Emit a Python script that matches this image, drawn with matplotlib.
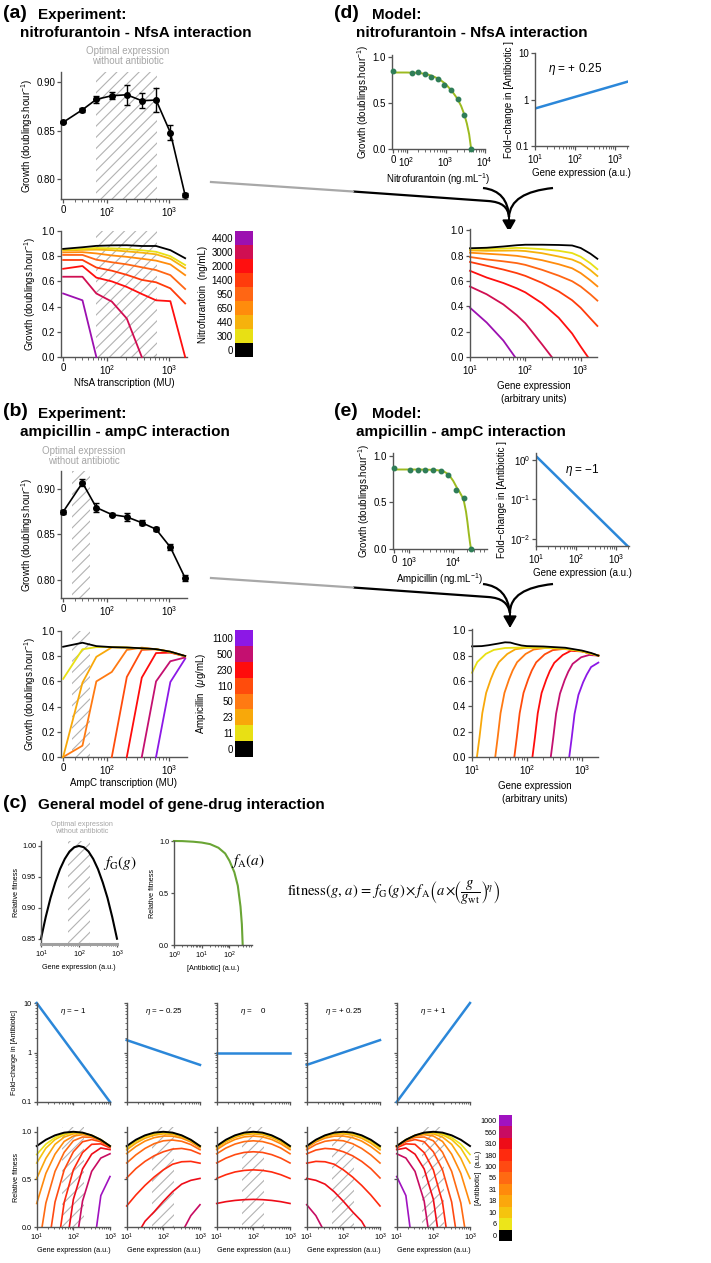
"""Gene-drug interaction figure: experiments (a, b), models (d, e) and the general model (c)."""

import numpy as np
import matplotlib
matplotlib.use("Agg")
import matplotlib.pyplot as plt
from matplotlib.patches import FancyArrowPatch, PathPatch
from matplotlib.path import Path
from matplotlib.ticker import FixedLocator, FixedFormatter, NullFormatter, NullLocator

W, H = 711, 1263
NA = np.nan

# ------------------------------------------------------------------
# (a) nitrofurantoin - NfsA experiment
# ------------------------------------------------------------------
NFSA_MU = [0, 40, 67, 119, 208, 363, 617, 1050, 1820]
NFSA_GROWTH = [0.8585, 0.8714, 0.882, 0.8857, 0.8867, 0.8806, 0.8813, 0.848, 0.7837]
NFSA_ERR = [0.001, 0.002, 0.0038, 0.0034, 0.0102, 0.0077, 0.0119, 0.0077, 0.002]
NFSA_OPTIMUM = (67, 645)

NITRO_LEVELS = ["0", "300", "440", "650", "950", "1400", "2000", "3000", "4400"]
NITRO_COLORS = ["#000000", "#e8e014", "#f6b20c", "#ff8c0c", "#ff6614",
                "#ff3c0c", "#ff0f0f", "#d00f52", "#9c10b0"]
NITRO_GROWTH = [
    [0.858, 0.871, 0.882, 0.886, 0.887, 0.881, 0.881, 0.848, 0.784],
    [0.852, 0.858, 0.865, 0.862, 0.857, 0.847, 0.835, 0.800, 0.730],
    [0.845, 0.850, 0.852, 0.848, 0.838, 0.828, 0.815, 0.780, 0.705],
    [0.830, 0.832, 0.822, 0.806, 0.795, 0.780, 0.765, 0.735, 0.650],
    [0.810, 0.810, 0.772, 0.752, 0.735, 0.712, 0.690, 0.650, 0.540],
    [0.770, 0.770, 0.710, 0.685, 0.652, 0.612, 0.593, 0.545, 0.425],
    [0.700, 0.722, 0.630, 0.600, 0.556, 0.500, 0.450, 0.443, 0.000],
    [0.637, 0.637, 0.504, 0.440, 0.305, 0.000, NA, NA, NA],
    [0.504, 0.450, 0.000, NA, NA, NA, NA, NA, NA],
]

# ------------------------------------------------------------------
# (b) ampicillin - ampC experiment
# ------------------------------------------------------------------
AMPC_MU = [0, 40, 67, 119, 208, 363, 617, 1050, 1820]
AMPC_GROWTH = [0.875, 0.907, 0.8797, 0.872, 0.8694, 0.863, 0.8558, 0.836, 0.802]
AMPC_ERR = [0.002, 0.0037, 0.005, 0.0015, 0.0048, 0.0028, 0.002, 0.003, 0.0037]
AMPC_OPTIMUM = (27, 52.5)

AMP_LEVELS = ["0", "11", "23", "50", "110", "230", "500", "1100"]
AMP_COLORS = ["#000000", "#e8e014", "#f8a80a", "#ff7a12", "#ff4c0c",
              "#ff0c0c", "#c41070", "#8c18e6"]
AMP_GROWTH = [
    [0.875, 0.907, 0.880, 0.872, 0.869, 0.863, 0.856, 0.836, 0.802],
    [0.620, 0.855, 0.872, 0.872, 0.869, 0.862, 0.855, 0.835, 0.800],
    [0.000, 0.590, 0.795, 0.870, 0.868, 0.862, 0.855, 0.835, 0.800],
    [0.000, 0.090, 0.600, 0.675, 0.850, 0.868, 0.855, 0.835, 0.800],
    [NA, NA, NA, 0.000, 0.635, 0.850, 0.855, 0.832, 0.800],
    [NA, NA, NA, NA, 0.000, 0.630, 0.825, 0.828, 0.800],
    [NA, NA, NA, NA, NA, 0.000, 0.600, 0.760, 0.790],
    [NA, NA, NA, NA, NA, NA, 0.000, 0.595, 0.780],
]

# ------------------------------------------------------------------
# (d) nitrofurantoin model
# ------------------------------------------------------------------
NITRO_DOSE = [0, 134, 199, 295, 421, 624, 906, 1370, 2040, 3030, 4470]
NITRO_DOSE_GROWTH = [0.848, 0.83, 0.834, 0.812, 0.78, 0.755, 0.697, 0.639, 0.538, 0.368, 0.0]
NITRO_FIT_X = [45, 100, 200, 300, 400, 500, 700, 1000, 1500, 2000, 2500, 3000, 3500, 4000, 4500]
NITRO_FIT_Y = [0.83, 0.83, 0.826, 0.815, 0.80, 0.785, 0.755, 0.705, 0.62, 0.545,
               0.465, 0.375, 0.275, 0.16, 0.0]
NITRO_FOLD_X = [10, 2000]
NITRO_FOLD_Y = [0.64, 2.4]

NFSA_MODEL_GENE = [10, 20, 40, 70, 100, 200, 400, 700, 1000, 1500, 2000]
NFSA_MODEL_GROWTH = [
    [0.858, 0.862, 0.872, 0.882, 0.886, 0.886, 0.884, 0.880, 0.860, 0.815, 0.775],
    [0.854, 0.853, 0.856, 0.861, 0.859, 0.851, 0.838, 0.820, 0.791, 0.739, 0.693],
    [0.841, 0.838, 0.839, 0.840, 0.836, 0.819, 0.793, 0.769, 0.740, 0.685, 0.639],
    [0.823, 0.815, 0.807, 0.798, 0.788, 0.764, 0.732, 0.700, 0.662, 0.604, 0.558],
    [0.789, 0.770, 0.755, 0.741, 0.727, 0.688, 0.642, 0.598, 0.556, 0.494, 0.445],
    [0.750, 0.720, 0.690, 0.662, 0.640, 0.585, 0.518, 0.448, 0.388, 0.304, 0.245],
    [0.680, 0.627, 0.584, 0.542, 0.510, 0.424, 0.310, 0.185, 0.082, NA, NA],
    [0.556, 0.495, 0.415, 0.330, 0.266, 0.100, NA, NA, NA, NA, NA],
    [0.389, 0.272, 0.130, NA, NA, NA, NA, NA, NA, NA, NA],
]
NFSA_MODEL_ZERO = [None, None, None, None, None, None, 1350, 300, 65]

# ------------------------------------------------------------------
# (e) ampicillin model
# ------------------------------------------------------------------
AMP_DOSE = [0, 1035, 1545, 2300, 3510, 5240, 7740, 11600, 17100, 25300]
AMP_DOSE_GROWTH = [0.868, 0.85, 0.85, 0.843, 0.843, 0.839, 0.789, 0.636, 0.546, 0.0]
AMP_FIT_X = [457, 1000, 2000, 3000, 4000, 5000, 6000, 7000, 8000, 10000, 12000,
             14000, 16000, 17500, 19500, 21000, 22500, 24000, 25300]
AMP_FIT_Y = [0.853, 0.853, 0.852, 0.85, 0.847, 0.842, 0.833, 0.815, 0.795, 0.73, 0.66,
             0.61, 0.56, 0.51, 0.40, 0.29, 0.17, 0.07, 0.0]
AMP_FOLD_X = [10, 2000]
AMP_FOLD_Y = [1.25, 0.00625]

AMPC_MODEL_GENE = [
    [10, 15, 20, 30, 40, 50, 60, 80, 100, 200, 500, 1000, 1500, 2000],
    [10, 12.5, 17.9, 25, 40, 100, 200, 500, 1000, 2000],
    [12.3, 13.7, 15.4, 18.1, 22, 25.6, 30.8, 43.9, 61.5, 98, 200, 500, 1000, 2000],
    [26.5, 29.4, 33.1, 39, 47.4, 55.1, 66.3, 94.6, 132.5, 212, 500, 1000, 2000],
    [59, 65.5, 73.8, 86.7, 105.6, 122.7, 147.5, 210.6, 295, 472, 1000, 2000],
    [126, 140, 157.5, 185, 225.5, 262, 315, 450, 630, 1008, 2000],
    [272, 302, 340, 400, 487, 566, 680, 971, 1360, 2000],
    [590, 655, 737, 867, 1056, 1227, 1475, 2000],
]
AMPC_MODEL_GROWTH = [
    [0.873, 0.875, 0.882, 0.895, 0.905, 0.903, 0.893, 0.88, 0.875, 0.872, 0.862, 0.84, 0.82, 0.80],
    [0.665, 0.75, 0.814, 0.845, 0.86, 0.865, 0.862, 0.855, 0.835, 0.80],
    [0.0, 0.156, 0.346, 0.506, 0.614, 0.683, 0.748, 0.813, 0.85, 0.862, 0.862, 0.855, 0.835, 0.80],
    [0.0, 0.156, 0.346, 0.506, 0.614, 0.683, 0.748, 0.813, 0.848, 0.86, 0.855, 0.835, 0.80],
    [0.0, 0.156, 0.346, 0.506, 0.614, 0.683, 0.747, 0.81, 0.843, 0.853, 0.835, 0.80],
    [0.0, 0.155, 0.345, 0.505, 0.612, 0.68, 0.743, 0.805, 0.838, 0.833, 0.80],
    [0.0, 0.154, 0.342, 0.50, 0.607, 0.673, 0.735, 0.787, 0.805, 0.80],
    [0.0, 0.153, 0.34, 0.49, 0.59, 0.65, 0.71, 0.745],
]

# ------------------------------------------------------------------
# (c) general model
# ------------------------------------------------------------------
C_OPTIMUM = (50, 200)
C_BASE_GENE = [10, 13.3, 17.8, 23.7, 31.6, 42.2, 56.2, 75, 100, 133, 178, 237, 316, 422, 562, 750, 1000]
C_BASE_FITNESS = [0.85, 0.885, 0.916, 0.941, 0.9625, 0.979, 0.991, 0.998, 1.0,
                  0.998, 0.991, 0.979, 0.9625, 0.941, 0.916, 0.885, 0.85]
C_DRUG = [1, 2, 5, 10, 20, 40, 70, 100, 150, 200, 250, 280, 300]
C_DRUG_FITNESS = [1.0, 0.999, 0.993, 0.985, 0.97, 0.935, 0.88, 0.81, 0.70, 0.57, 0.37, 0.2, 0.0]

ETA_TITLES = [r"$\eta$ = − 1", r"$\eta$ = − 0.25", r"$\eta$ =    0",
              r"$\eta$ = + 0.25", r"$\eta$ = + 1"]
FOLD_AT_10 = [10, 1.78, 1, 0.562, 0.1]
FOLD_AT_1000 = [0.1, 0.562, 1, 1.78, 10]

C_LEVELS = ["0", "6", "10", "18", "31", "56", "100", "180", "310", "560", "1000"]
C_COLORS = ["#000000", "#ece51a", "#f5c40e", "#fba70c", "#ff8a0c", "#ff6a12",
            "#ff4a12", "#ff2a0e", "#ee0c18", "#c80c62", "#a012c0"]
C_GENE = [10, 17.8, 31.6, 56.2, 100, 178, 316, 562, 1000]
C_FIT_BLACK = [0.85, 0.916, 0.9625, 0.991, 1.0, 0.991, 0.9625, 0.916, 0.85]

C_FIT_ETA_M1 = [
    [0.761, 0.870, 0.939, 0.980, 0.995, 0.989, 0.962, 0.916, 0.850],
    [0.672, 0.828, 0.918, 0.969, 0.990, 0.986, 0.961, 0.915, 0.850],
    [0.510, 0.721, 0.868, 0.944, 0.978, 0.981, 0.958, 0.914, 0.849],
    [0.247, 0.563, 0.765, 0.898, 0.955, 0.970, 0.953, 0.911, 0.848],
    [NA, 0.252, 0.584, 0.784, 0.905, 0.945, 0.941, 0.906, 0.846],
    [NA, NA, 0.262, 0.599, 0.790, 0.895, 0.918, 0.895, 0.842],
    [NA, NA, NA, 0.258, 0.600, 0.781, 0.868, 0.873, 0.831],
    [NA, NA, NA, NA, 0.290, 0.609, 0.765, 0.830, 0.812],
    [NA, NA, NA, NA, NA, 0.272, 0.584, 0.724, 0.769],
    [NA, NA, NA, NA, NA, NA, NA, 0.330, 0.530],
]
C_ZERO_ETA_M1 = [None, None, None, None, 14, 25, 45, 77.5, 140, 430]

C_FIT_ETA_M025 = [
    [0.841, 0.907, 0.956, 0.985, 0.995, 0.987, 0.959, 0.913, 0.848],
    [0.831, 0.900, 0.949, 0.979, 0.990, 0.983, 0.956, 0.910, 0.846],
    [0.810, 0.880, 0.932, 0.964, 0.978, 0.973, 0.948, 0.905, 0.842],
    [0.771, 0.845, 0.902, 0.938, 0.955, 0.954, 0.933, 0.893, 0.832],
    [0.672, 0.757, 0.825, 0.875, 0.905, 0.913, 0.900, 0.866, 0.811],
    [0.515, 0.613, 0.689, 0.748, 0.790, 0.818, 0.825, 0.808, 0.768],
    [0.221, 0.336, 0.437, 0.525, 0.600, 0.659, 0.685, 0.689, 0.670],
    [NA, NA, 0.060, 0.160, 0.270, 0.370, 0.450, 0.490, 0.510],
    [NA, NA, NA, NA, NA, NA, NA, 0.119, 0.234],
    [NA, NA, NA, NA, NA, NA, NA, NA, NA],
]
C_ZERO_ETA_M025 = [None, None, None, None, None, None, None, 25.6, 385, None]

C_FIT_ETA_0 = [
    [0.846, 0.911, 0.958, 0.986, 0.995, 0.986, 0.958, 0.911, 0.846],
    [0.842, 0.906, 0.953, 0.981, 0.990, 0.981, 0.953, 0.906, 0.842],
    [0.831, 0.895, 0.941, 0.969, 0.978, 0.969, 0.941, 0.895, 0.831],
    [0.812, 0.874, 0.919, 0.946, 0.955, 0.946, 0.919, 0.874, 0.812],
    [0.769, 0.829, 0.871, 0.897, 0.905, 0.897, 0.871, 0.829, 0.769],
    [0.672, 0.723, 0.760, 0.783, 0.790, 0.783, 0.760, 0.723, 0.672],
    [0.510, 0.549, 0.578, 0.594, 0.600, 0.594, 0.578, 0.549, 0.510],
    [0.247, 0.266, 0.279, 0.287, 0.290, 0.287, 0.279, 0.266, 0.247],
    [NA, NA, NA, NA, NA, NA, NA, NA, NA],
    [NA, NA, NA, NA, NA, NA, NA, NA, NA],
]
C_ZERO_ETA_0 = [None] * 10

C_FIT_ETA_P025 = [
    [0.848, 0.913, 0.959, 0.987, 0.995, 0.985, 0.956, 0.907, 0.841],
    [0.846, 0.910, 0.956, 0.983, 0.990, 0.979, 0.949, 0.900, 0.831],
    [0.842, 0.905, 0.948, 0.973, 0.978, 0.964, 0.932, 0.880, 0.810],
    [0.832, 0.893, 0.933, 0.954, 0.955, 0.938, 0.902, 0.845, 0.771],
    [0.811, 0.866, 0.900, 0.913, 0.905, 0.875, 0.825, 0.757, 0.672],
    [0.768, 0.808, 0.825, 0.818, 0.790, 0.748, 0.689, 0.613, 0.515],
    [0.670, 0.689, 0.685, 0.659, 0.600, 0.525, 0.437, 0.336, 0.221],
    [0.510, 0.490, 0.450, 0.370, 0.270, 0.160, 0.060, NA, NA],
    [0.234, 0.119, NA, NA, NA, NA, NA, NA, NA],
    [NA, NA, NA, NA, NA, NA, NA, NA, NA],
]
C_ZERO_ETA_P025 = [None, None, None, None, None, None, None, 390, 26, None]

C_FIT_ETA_P1 = [
    [0.850, 0.916, 0.962, 0.989, 0.995, 0.980, 0.939, 0.870, 0.761],
    [0.850, 0.915, 0.961, 0.986, 0.990, 0.969, 0.918, 0.828, 0.672],
    [0.849, 0.914, 0.958, 0.981, 0.978, 0.944, 0.868, 0.721, 0.510],
    [0.848, 0.911, 0.953, 0.970, 0.955, 0.898, 0.765, 0.563, 0.247],
    [0.846, 0.906, 0.941, 0.945, 0.905, 0.784, 0.584, 0.252, NA],
    [0.842, 0.895, 0.918, 0.895, 0.790, 0.599, 0.262, NA, NA],
    [0.831, 0.873, 0.868, 0.781, 0.600, 0.258, NA, NA, NA],
    [0.812, 0.830, 0.765, 0.609, 0.290, NA, NA, NA, NA],
    [0.769, 0.724, 0.584, 0.272, NA, NA, NA, NA, NA],
    [0.530, 0.330, NA, NA, NA, NA, NA, NA, NA],
]
C_ZERO_ETA_P1 = [None, None, None, None, 714, 400, 222, 129, 71.4, 23]

C_FITS = [C_FIT_ETA_M1, C_FIT_ETA_M025, C_FIT_ETA_0, C_FIT_ETA_P025, C_FIT_ETA_P1]
C_ZEROS = [C_ZERO_ETA_M1, C_ZERO_ETA_M025, C_ZERO_ETA_0, C_ZERO_ETA_P025, C_ZERO_ETA_P1]

# ------------------------------------------------------------------
# styling
# ------------------------------------------------------------------
plt.rcParams["font.family"] = ["Liberation Sans", "DejaVu Sans"]
plt.rcParams["mathtext.fontset"] = "custom"
plt.rcParams["mathtext.rm"] = "Liberation Sans"
plt.rcParams["mathtext.it"] = "Liberation Sans:italic"
plt.rcParams["mathtext.bf"] = "Liberation Sans:bold"
plt.rcParams["hatch.linewidth"] = 0.8
plt.rcParams["font.size"] = 7

AXC = "#555555"
HATCH_C = "#b2b2b2"
OPT_TXT = "#a6a6a6"
BLUE = "#2b87d9"
FIT_GREEN = "#9cba1f"
DOT_GREEN = "#2f7d57"
MODEL_GREEN = "#6aa535"
MU_ZERO = 19.5          # where "0" sits on the broken log axis of (a), (b)
LW = 1.3
FS = 7                  # panels a, b, d, e
FS_C = 5.2              # smaller lettering in panel c

fig = plt.figure(figsize=(W / 100, H / 100), dpi=100)


def px_axes(x0, y0, x1, y1):
    ax = fig.add_axes([x0 / W, 1 - y1 / H, (x1 - x0) / W, (y1 - y0) / H])
    ax._px = (x0, x1)
    return ax


def ylabel_at(ax, text, right_px, fs=FS):
    """Y label whose right edge sits at a given figure pixel column."""
    ax.set_ylabel(text, fontsize=fs)
    x0, x1 = ax._px
    ax.yaxis.set_label_coords((right_px - x0) / (x1 - x0), 0.5)


def ftext(x, y, s, **kw):
    kw.setdefault("va", "center")
    fig.text(x / W, 1 - y / H, s, **kw)


def style(ax, fs=FS):
    small = fs < FS
    for s in ("top", "right"):
        ax.spines[s].set_visible(False)
    for s in ("left", "bottom"):
        ax.spines[s].set_color(AXC)
        ax.spines[s].set_linewidth(1.0)
    ax.tick_params(which="both", direction="out", color=AXC, labelsize=fs,
                   pad=1.0 if small else 1.2)
    ax.tick_params(which="major", length=2.5 if small else 3.0, width=0.9)
    ax.tick_params(which="minor", length=1.6 if small else 2.0, width=0.6)


def minor_log(lo, hi):
    vals = [k * 10.0 ** e for e in range(-3, 6) for k in range(2, 10)]
    return [v for v in vals if lo < v < hi]


def log_x(ax, lo, hi, exps, labels=True):
    ax.set_xscale("log")
    ax.set_xlim(lo, hi)
    ax.xaxis.set_major_locator(FixedLocator([10.0 ** e for e in exps]))
    if labels:
        ax.xaxis.set_major_formatter(FixedFormatter([rf"$10^{{{e}}}$" for e in exps]))
    else:
        ax.xaxis.set_major_formatter(NullFormatter())
    ax.xaxis.set_minor_locator(FixedLocator(minor_log(lo, hi)))
    ax.xaxis.set_minor_formatter(NullFormatter())


def zero_log_x(ax, zero_pos, lo, hi, exps, first_minor):
    ax.set_xscale("log")
    ax.set_xlim(lo, hi)
    ax.xaxis.set_major_locator(FixedLocator([zero_pos] + [10.0 ** e for e in exps]))
    ax.xaxis.set_major_formatter(FixedFormatter(["0"] + [rf"$10^{{{e}}}$" for e in exps]))
    ax.xaxis.set_minor_locator(FixedLocator(minor_log(first_minor, hi)))
    ax.xaxis.set_minor_formatter(NullFormatter())


def hatch_span(ax, span):
    ax.axvspan(span[0], span[1], facecolor="none", edgecolor=HATCH_C, hatch="///",
               lw=0, zorder=0)


def colorbar(ax, levels, colors, title, right_px, fs=FS):
    n = len(levels)
    ax.bar([0] * n, [1] * n, bottom=list(range(n)), color=colors, width=1, align="edge")
    ax.set_xlim(0, 1)
    ax.set_ylim(0, n)
    ax.set_xticks([])
    ax.set_yticks([i + 0.5 for i in range(n)])
    ax.set_yticklabels(levels)
    ax.tick_params(length=0, labelsize=fs, pad=1.5)
    for s in ax.spines.values():
        s.set_visible(False)
    ylabel_at(ax, title, right_px, fs)


def with_zero(xs, ys, zero):
    pts = [(x, y) for x, y in zip(xs, ys) if not np.isnan(y)]
    if pts and zero is not None:
        pts.append((zero, 0.0))
        pts.sort()
    return pts


def optimal_note(x, y, fs=FS):
    ftext(x, y, "Optimal expression\nwithout antibiotic", ha="center", color=OPT_TXT,
          fontsize=fs, linespacing=1.0)


GROWTH = r"Growth (doublings.hour$^{-1}$)"

# ------------------------------------------------------------------
# titles
# ------------------------------------------------------------------
for y0, ytitle, exp_txt, mod_txt, lab_l, lab_r in [
        (13, 33, "nitrofurantoin - NfsA interaction", "nitrofurantoin - NfsA interaction", "(a)", "(d)"),
        (412, 432, "ampicillin - ampC interaction", "ampicillin - ampC interaction", "(b)", "(e)")]:
    ftext(3, y0, lab_l, fontsize=14, fontweight="bold")
    ftext(38, y0 + 2, "Experiment:", fontsize=11, fontweight="bold")
    ftext(20, ytitle, exp_txt, fontsize=11, fontweight="bold")
    ftext(334, y0, lab_r, fontsize=14, fontweight="bold")
    ftext(372, y0 + 2, "Model:", fontsize=11, fontweight="bold")
    ftext(356, ytitle, mod_txt, fontsize=11, fontweight="bold")
ftext(3, 804, "(c)", fontsize=14, fontweight="bold")
ftext(38, 805, "General model of gene-drug interaction", fontsize=11, fontweight="bold")

# ------------------------------------------------------------------
# (a)
# ------------------------------------------------------------------
mu_x = [MU_ZERO if v == 0 else v for v in NFSA_MU]
ax = px_axes(61, 72, 187, 199)
style(ax)
hatch_span(ax, NFSA_OPTIMUM)
ax.errorbar(mu_x, NFSA_GROWTH, yerr=NFSA_ERR, fmt="o-", color="k", ms=4, lw=1.2,
            elinewidth=1, capsize=2, zorder=3, clip_on=False)
zero_log_x(ax, MU_ZERO, 18, 1950, [2, 3], 28)
ax.set_ylim(0.78, 0.91)
ax.set_yticks([0.80, 0.85, 0.90])
ax.set_yticklabels(["0.80", "0.85", "0.90"])
ylabel_at(ax, GROWTH, 35)
optimal_note(128, 56)

ax = px_axes(61, 231, 187, 357)
style(ax)
hatch_span(ax, NFSA_OPTIMUM)
for ys, col in list(zip(NITRO_GROWTH, NITRO_COLORS))[::-1]:
    ax.plot(mu_x, ys, color=col, lw=LW, zorder=3, clip_on=False)
zero_log_x(ax, MU_ZERO, 18, 1950, [2, 3], 28)
ax.set_ylim(0, 1.0)
ax.set_yticks([0, 0.2, 0.4, 0.6, 0.8, 1.0])
ax.set_yticklabels(["0.0", "0.2", "0.4", "0.6", "0.8", "1.0"])
ylabel_at(ax, GROWTH, 38)
ax.set_xlabel("NfsA transcription (MU)", labelpad=1)
colorbar(px_axes(235, 231, 253, 357), NITRO_LEVELS, NITRO_COLORS, "Nitrofurantoin  (ng/mL)", 208)

# ------------------------------------------------------------------
# (b)
# ------------------------------------------------------------------
mu_x = [MU_ZERO if v == 0 else v for v in AMPC_MU]
ax = px_axes(61, 471, 187, 598)
style(ax)
hatch_span(ax, AMPC_OPTIMUM)
ax.errorbar(mu_x, AMPC_GROWTH, yerr=AMPC_ERR, fmt="o-", color="k", ms=4, lw=1.2,
            elinewidth=1, capsize=2, zorder=3, clip_on=False)
zero_log_x(ax, MU_ZERO, 18, 1950, [2, 3], 28)
ax.set_ylim(0.78, 0.92)
ax.set_yticks([0.80, 0.85, 0.90])
ax.set_yticklabels(["0.80", "0.85", "0.90"])
ylabel_at(ax, GROWTH, 35)
optimal_note(84, 456)

ax = px_axes(61, 631, 187, 757)
style(ax)
hatch_span(ax, AMPC_OPTIMUM)
for ys, col in list(zip(AMP_GROWTH, AMP_COLORS))[::-1]:
    ax.plot(mu_x, ys, color=col, lw=LW, zorder=3, clip_on=False)
zero_log_x(ax, MU_ZERO, 18, 1950, [2, 3], 28)
ax.set_ylim(0, 1.0)
ax.set_yticks([0, 0.2, 0.4, 0.6, 0.8, 1.0])
ax.set_yticklabels(["0.0", "0.2", "0.4", "0.6", "0.8", "1.0"])
ylabel_at(ax, GROWTH, 38)
ax.set_xlabel("AmpC transcription (MU)", labelpad=1)
colorbar(px_axes(235, 630, 253, 757), AMP_LEVELS, AMP_COLORS, r"Ampicillin  ($\mu$g/mL)", 208)

# ------------------------------------------------------------------
# (d)
# ------------------------------------------------------------------
ax = px_axes(392, 55, 485, 149)
style(ax)
ax.plot(NITRO_FIT_X, NITRO_FIT_Y, color=FIT_GREEN, lw=1.4, zorder=2)
ax.plot([45 if v == 0 else v for v in NITRO_DOSE], NITRO_DOSE_GROWTH, "o",
        color=DOT_GREEN, ms=3.2, zorder=3, clip_on=False)
zero_log_x(ax, 45, 42, 10200, [2, 3, 4], 55)
ax.set_ylim(0, 1.02)
ax.set_yticks([0, 0.5, 1.0])
ax.set_yticklabels(["0.0", "0.5", "1.0"])
ylabel_at(ax, GROWTH, 371)
ax.set_xlabel(r"Nitrofurantoin (ng.mL$^{-1}$)", labelpad=2)

ax = px_axes(535, 53, 628, 146)
style(ax)
ax.plot(NITRO_FOLD_X, NITRO_FOLD_Y, color=BLUE, lw=1.8)
log_x(ax, 10, 2110, [1, 2, 3])
ax.set_yscale("log")
ax.set_ylim(0.1, 10)
ax.yaxis.set_major_locator(FixedLocator([0.1, 1, 10]))
ax.yaxis.set_major_formatter(FixedFormatter(["0.1", "1", "10"]))
ax.yaxis.set_minor_locator(NullLocator())
ylabel_at(ax, "Fold−change in [Antibiotic ]", 514)
ax.set_xlabel("Gene expression (a.u.)", labelpad=2)
ax.text(0.43, 0.8, r"$\eta$ = + 0.25", transform=ax.transAxes, ha="center", fontsize=8.5)

ax = px_axes(470, 229, 597, 357)
style(ax)
for i in range(len(NFSA_MODEL_GROWTH) - 1, -1, -1):
    pts = with_zero(NFSA_MODEL_GENE, NFSA_MODEL_GROWTH[i], NFSA_MODEL_ZERO[i])
    ax.plot(*zip(*pts), color=NITRO_COLORS[i], lw=LW, clip_on=False)
log_x(ax, 10, 1970, [1, 2, 3])
ax.set_ylim(0, 1.01)
ax.set_yticks([0, 0.2, 0.4, 0.6, 0.8, 1.0])
ax.set_yticklabels(["0.0", "0.2", "0.4", "0.6", "0.8", "1.0"])
ax.set_xlabel("Gene expression\n(arbitrary units)", labelpad=3, linespacing=1.4)

# ------------------------------------------------------------------
# (e)
# ------------------------------------------------------------------
ax = px_axes(393, 453, 487, 549)
style(ax)
ax.plot(AMP_FIT_X, AMP_FIT_Y, color=FIT_GREEN, lw=1.4, zorder=2)
ax.plot([457 if v == 0 else v for v in AMP_DOSE], AMP_DOSE_GROWTH, "o",
        color=DOT_GREEN, ms=3.2, zorder=3, clip_on=False)
zero_log_x(ax, 457, 426, 58500, [3, 4], 600)
ax.set_ylim(0, 1.03)
ax.set_yticks([0, 0.5, 1.0])
ax.set_yticklabels(["0.0", "0.5", "1.0"])
ylabel_at(ax, GROWTH, 372)
ax.set_xlabel(r"Ampicillin (ng.mL$^{-1}$)", labelpad=2)

ax = px_axes(536, 453, 629, 546)
style(ax)
ax.plot(AMP_FOLD_X, AMP_FOLD_Y, color=BLUE, lw=1.8)
log_x(ax, 10, 2100, [1, 2, 3])
ax.set_yscale("log")
ax.set_ylim(0.0065, 1.5)
ax.yaxis.set_major_locator(FixedLocator([0.01, 0.1, 1]))
ax.yaxis.set_major_formatter(FixedFormatter([r"$10^{-2}$", r"$10^{-1}$", r"$10^{0}$"]))
ax.yaxis.set_minor_locator(NullLocator())
ylabel_at(ax, "Fold−change in [Antibiotic ]", 507)
ax.set_xlabel("Gene expression (a.u.)", labelpad=2)
ax.text(0.5, 0.78, r"$\eta$ = −1", transform=ax.transAxes, ha="center", fontsize=8.5)

ax = px_axes(472, 629, 598, 757)
style(ax)
for i in range(len(AMPC_MODEL_GROWTH) - 1, -1, -1):
    ax.plot(AMPC_MODEL_GENE[i], AMPC_MODEL_GROWTH[i], color=AMP_COLORS[i], lw=LW, clip_on=False)
log_x(ax, 10, 1970, [1, 2, 3])
ax.set_ylim(0, 1.01)
ax.set_yticks([0, 0.2, 0.4, 0.6, 0.8, 1.0])
ax.set_yticklabels(["0.0", "0.2", "0.4", "0.6", "0.8", "1.0"])
ax.set_xlabel("Gene expression\n(arbitrary units)", labelpad=3, linespacing=1.4)

# ------------------------------------------------------------------
# connectors from experiment to model
# ------------------------------------------------------------------
ov = fig.add_axes([0, 0, 1, 1], zorder=-1)
ov.set_xlim(0, W)
ov.set_ylim(H, 0)
ov.axis("off")
for dy, tip in [(0, 509), (396, 510)]:
    ov.plot([211, 353], [182 + dy, 191.5 + dy], color="#a8a8a8", lw=1.6)
    join = (tip, 217 + dy)
    for verts in [
            [(353, 191.5 + dy), (488, 201 + dy), (502, 202 + dy), (508, 207 + dy), join],
            [(483, 188 + dy), (483, 188 + dy), (500, 190 + dy), (508, 200 + dy), join],
            [(553, 188 + dy), (553, 188 + dy), (525, 191 + dy), (510, 200 + dy), join]]:
        codes = [Path.MOVETO, Path.LINETO, Path.CURVE4, Path.CURVE4, Path.CURVE4]
        ov.add_patch(PathPatch(Path(verts, codes), facecolor="none", edgecolor="k", lw=1.6))
    ov.add_patch(FancyArrowPatch((tip, 214 + dy), (tip, 232 + dy),
                                 arrowstyle="-|>,head_length=0.7,head_width=0.4",
                                 mutation_scale=10, color="k", lw=1.4, shrinkA=0, shrinkB=0))

# ------------------------------------------------------------------
# (c) top: gene cost, drug response and combined formula
# ------------------------------------------------------------------
ax = px_axes(41, 841, 117, 944)
style(ax, FS_C)
hatch_span(ax, C_OPTIMUM)
ax.plot(C_BASE_GENE, C_BASE_FITNESS, color="k", lw=1.5, clip_on=False)
log_x(ax, 10, 1000, [1, 2, 3])
ax.set_ylim(0.8415, 1.008)
ax.set_yticks([0.85, 0.90, 0.95, 1.00])
ax.set_yticklabels(["0.85", "0.90", "0.95", "1.00"])
ax.spines["bottom"].set_color("#a0a0a0")
ax.spines["bottom"].set_linewidth(2.2)
ylabel_at(ax, "Relative fitness", 20, FS_C)
ax.set_xlabel("Gene expression (a.u.)", fontsize=FS_C, labelpad=3)
optimal_note(82, 828, FS_C)
ftext(103, 863, r"$f_{\mathrm{G}}(g)$", fontsize=11, math_fontfamily="stix")

ax = px_axes(174, 841, 252, 945)
style(ax, FS_C)
ax.plot(C_DRUG, C_DRUG_FITNESS, color=MODEL_GREEN, lw=1.5, clip_on=False)
log_x(ax, 1, 650, [0, 1, 2])
ax.set_ylim(0, 1.0)
ax.set_yticks([0, 0.5, 1.0])
ax.set_yticklabels(["0.0", "0.5", "1.0"])
ylabel_at(ax, "Relative fitness", 156, FS_C)
ax.set_xlabel("[Antibiotic] (a.u.)", fontsize=FS_C, labelpad=3)
ftext(231, 861, r"$f_{\mathrm{A}}(a)$", fontsize=11, math_fontfamily="stix")

ftext(394, 893, r"$\mathrm{fitness}(g,\,a)\,{=}\,f_{\mathrm{G}}(g)\,{\times}\,f_{\mathrm{A}}"
      r"\left(a\,{\times}\!\left(\dfrac{g}{g_{\mathrm{wt}}}\right)^{\!\eta}\right)$",
      ha="center", fontsize=10.5, math_fontfamily="stix")

# ------------------------------------------------------------------
# (c) bottom: five interaction strengths
# ------------------------------------------------------------------
for k in range(5):
    x0 = 36.7 + 90 * k
    ax = px_axes(x0, 1003, x0 + 73.3, 1102)
    style(ax, FS_C)
    ax.plot([10, 1000], [FOLD_AT_10[k], FOLD_AT_1000[k]], color=BLUE, lw=1.8, clip_on=False)
    log_x(ax, 10, 1000, [1, 2, 3], labels=False)
    ax.set_yscale("log")
    ax.set_ylim(0.1, 10)
    ax.yaxis.set_major_locator(FixedLocator([0.1, 1, 10]))
    ax.yaxis.set_minor_locator(FixedLocator(minor_log(0.1, 10)))
    ax.yaxis.set_minor_formatter(NullFormatter())
    if k == 0:
        ax.yaxis.set_major_formatter(FixedFormatter(["0.1", "1", "10"]))
        ylabel_at(ax, "Fold−change in [Antibiotic]", 18, FS_C)
    else:
        ax.yaxis.set_major_formatter(NullFormatter())
    ax.text(0.5, 0.91, ETA_TITLES[k], transform=ax.transAxes, ha="center", va="center",
            fontsize=5.8)

    ax = px_axes(x0, 1127, x0 + 73.3, 1227)
    style(ax, FS_C)
    hatch_span(ax, C_OPTIMUM)
    fits, zeros = C_FITS[k], C_ZEROS[k]
    for i in range(len(fits) - 1, -1, -1):
        pts = with_zero(C_GENE, fits[i], zeros[i])
        if pts:
            ax.plot(*zip(*pts), color=C_COLORS[i + 1], lw=1.2, clip_on=False)
    ax.plot(C_GENE, C_FIT_BLACK, color="k", lw=1.4, clip_on=False)
    log_x(ax, 10, 1000, [1, 2, 3])
    ax.set_ylim(0, 1.05)
    ax.set_yticks([0, 0.5, 1.0])
    if k == 0:
        ax.set_yticklabels(["0.0", "0.5", "1.0"])
        ylabel_at(ax, "Relative fitness", 20, FS_C)
    else:
        ax.set_yticklabels([])
    ax.set_xlabel("Gene expression (a.u.)", fontsize=FS_C, labelpad=3)

colorbar(px_axes(499, 1115, 512, 1241), C_LEVELS, C_COLORS, "[Antibiotic]  (a.u.)", 482, FS_C)

fig.savefig("out.png", dpi=100)
